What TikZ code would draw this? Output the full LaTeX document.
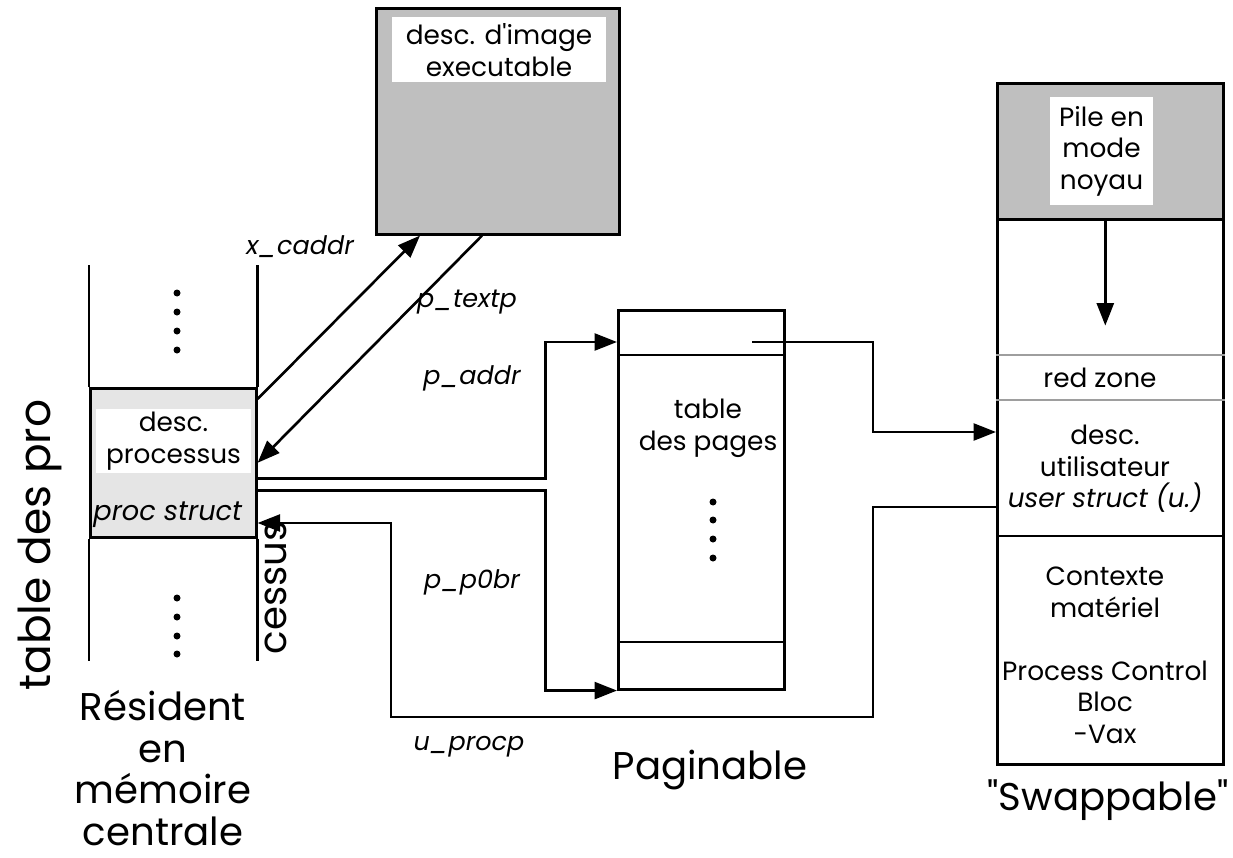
\documentclass[tikz,border=0pt]{standalone}
\usepackage{fontspec}
\setmainfont{Poppins}[Ligatures=TeXOff]
\usepackage{tikz}
\usetikzlibrary{arrows.meta, positioning, calc}
\definecolor{boxgrey}{gray}{0.75}
\definecolor{procgrey}{gray}{0.9}
\definecolor{zonegrey}{gray}{0.62}
\tikzset{
  box/.style={rectangle, draw=black, line width=1.5pt, inner sep=0pt, anchor=north west},
  whitetag/.style={rectangle, fill=white, inner sep=0pt, align=center, font=\fontsize{15}{18}\selectfont},
  txt/.style={align=center, inner sep=0pt, font=\fontsize{15}{18}\selectfont},
  ptr/.style={inner sep=0pt, font=\itshape\fontsize{14.5}{17}\selectfont},
  big/.style={align=center, inner sep=0pt, font=\fontsize{22}{24}\selectfont},
  arrow/.style={line width=1.5pt, -{Triangle[length=0.45cm, width=0.34cm]}},
  link/.style={line width=1.5pt},
  zone/.style={line width=1.5pt, draw=zonegrey}
}
\begin{document}
\begin{tikzpicture}[x=0.02cm, y=-0.02cm]
\useasboundingbox (0,0) rectangle (1233,858);

% Image descriptor
\node (img) [box, fill=boxgrey, minimum width=4.86cm, minimum height=4.52cm] at (375,7) {};
\node (imgtag) [whitetag, minimum width=4.28cm, minimum height=1.3cm, anchor=north] at (499,17) {desc. d'image\\executable};

% Process table (resident)
\node (proc) [box, fill=procgrey, minimum width=3.32cm, minimum height=2.98cm] at (89,387) {};
\node (proctag) [whitetag, minimum width=3.1cm, minimum height=1.28cm] at (173.5,441) {desc.\\processus};
\node (procname) [ptr, anchor=west, font=\itshape\fontsize{15.5}{18}\selectfont] at (93,515) {proc struct};
\draw[link] (proc.north west) -- ++(0,-122);
\draw[link] (proc.north east) -- ++(0,-122);
\draw[link] (proc.south west) -- ++(0,122);
\draw[link] (proc.south east) -- ++(0,122);
\foreach \y in {293,312,331,350,598,617,636,654}
  \fill (177,\y) circle (0.07cm);

% Page table
\node (pages) [box, minimum width=3.32cm, minimum height=7.58cm] at (617,309) {};
\draw[link] (pages.west |- 0,355) -- (pages.east |- 0,355);
\draw[link] (pages.west |- 0,642) -- (pages.east |- 0,642);
\node (pagestxt) [txt] at (708,428) {table\\des pages};
\foreach \y in {502,520,539,558}
  \fill (713,\y) circle (0.07cm);
\coordinate (ptop) at (752,342);

% User area (swappable)
\node (uarea) [box, minimum width=4.52cm, minimum height=13.62cm] at (996,82) {};
\node (uhead) [box, fill=boxgrey, minimum width=4.52cm, minimum height=2.72cm] at (996,82) {};
\node (piletag) [whitetag, minimum width=2.06cm, minimum height=2.16cm] at (1101.5,151) {Pile en\\mode\\noyau};
\draw[zone] (uarea.west |- 0,355) -- (uarea.east |- 0,355);
\draw[zone] (uarea.west |- 0,400) -- (uarea.east |- 0,400);
\draw[link] (uarea.west |- 0,536) -- (uarea.east |- 0,536);
\node (redzone) [txt] at (1100,378) {red zone};
\node (udesc) [txt] at (1105,469) {desc.\\utilisateur\\{\itshape user struct (u.)}};
\node (ctx) [txt] at (1105,592) {Contexte\\matériel};
\node (pcb) [txt] at (1105,702) {Process Control\\Bloc\\-Vax};
\draw[arrow] ($(uhead.south)+(-5,0)$) -- ++(0,105);

% Pointers
\draw[arrow] ($(proc.north east)+(0,12)$) -- ($(img.south west)+(45,0)$);
\draw[arrow] ($(img.south west)+(107,0)$) -- (proc.east);
\draw[arrow] ($(proc.east)+(0,16)$) -- ++(288,0) |- (pages.west |- ptop);
\draw[arrow] ($(proc.east)+(0,28)$) -- ++(288,0) |- (pages.south west);
\draw[arrow] (ptop) -- ++(121,0) |- (uarea.west |- 0,432);
\draw[arrow] (uarea.west |- 0,507) -- ++(-123,0) |- (391,717) |- (proc.east |- 0,523);

\node (xcaddr) [ptr] at (300,247) {x\_caddr};
\node (ptextp) [ptr] at (467,302) {p\_textp};
\node (paddr) [ptr] at (472,378) {p\_addr};
\node (pp0br) [ptr] at (472,582) {p\_p0br};
\node (uprocp) [ptr] at (469,747) {u\_procp};

% Captions
\node (tabtitle) [big, rotate=90, font=\fontsize{25}{28}\selectfont] at (40,545) {table des pro};
\node (tabtail) [big, rotate=90] at (276,588) {cessus};
\node (resident) [big, font=\fontsize{22}{23.6}\selectfont] at (163,768) {Résident\\en\\mémoire\\centrale};
\node (paginable) [big] at (710,770) {Paginable};
\node (swappable) [big] at (1108,800) {"Swappable"};

\end{tikzpicture}
\end{document}
